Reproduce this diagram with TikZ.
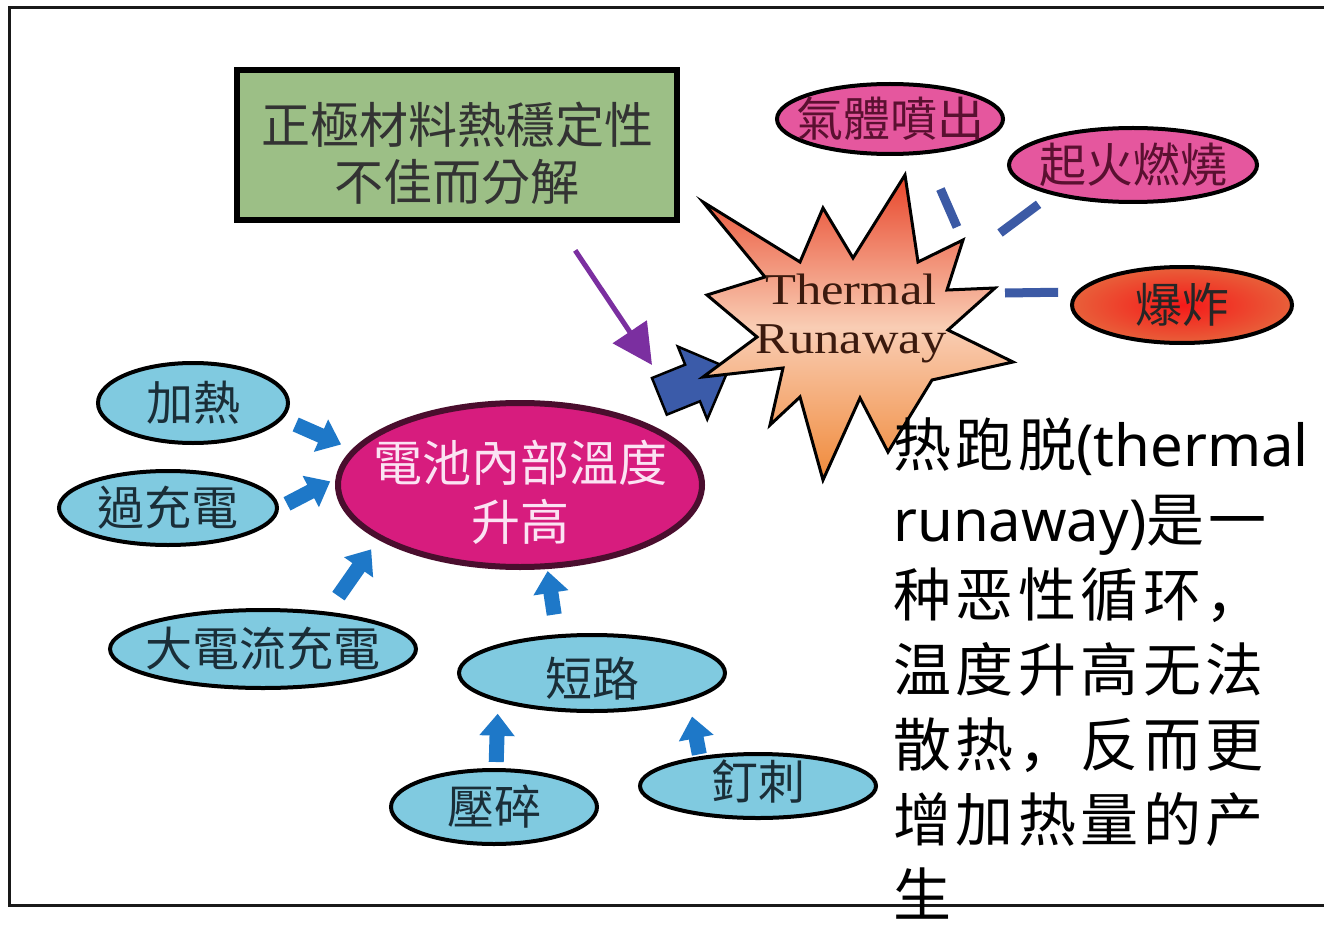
\documentclass[tikz,border=0pt]{standalone}
\usepackage{fontspec}
\setmainfont{Liberation Serif}
\newfontfamily\serifwide[FakeStretch=1.15]{Liberation Serif}
\newfontfamily\cjktc{Noto Sans CJK TC}
\newfontfamily\cjksc[LetterSpace=7.8]{Noto Sans CJK SC}
\newfontfamily\latsans{Noto Sans}
\usetikzlibrary{shapes.geometric,shapes.arrows,arrows.meta}
\definecolor{boxgreen}{HTML}{9CBF86}
\definecolor{cyanfill}{HTML}{80CAE0}
\definecolor{pinkfill}{HTML}{E5579E}
\definecolor{corefill}{HTML}{D71C7E}
\definecolor{coreedge}{HTML}{4A0E2E}
\definecolor{arrowblue}{HTML}{1E78C8}
\definecolor{dashblue}{HTML}{3C5AA5}
\definecolor{feedblue}{HTML}{3B5BA9}
\definecolor{purp}{HTML}{7B2FA0}
\definecolor{bluetext}{HTML}{1A2E38}
\definecolor{pinktext}{HTML}{5A1030}
\definecolor{startext}{HTML}{3B1A0E}
\definecolor{coretext}{HTML}{FBE3F3}
\definecolor{startop}{HTML}{E8452A}
\definecolor{starmid}{HTML}{F9CDB4}
\definecolor{starbot}{HTML}{F08A3A}
\begin{document}
\begin{tikzpicture}[x=1pt,y=-1pt,
  framestyle/.style={line width=3pt, draw=black!90},
  blueell/.style={ellipse, draw=black, line width=4pt, fill=cyanfill, inner sep=0pt},
  pinkell/.style={ellipse, draw=black, line width=4pt, fill=pinkfill, inner sep=0pt},
  lblblue/.style={font=\cjktc\fontsize{47}{52}\selectfont, text=bluetext},
  lblpink/.style={font=\cjktc\fontsize{47}{52}\selectfont, text=pinktext},
  causetxt/.style={font=\cjktc\fontsize{49}{57}\selectfont, text=black!80, align=center},
  coretxt/.style={font=\cjktc\fontsize{49}{59}\selectfont, text=coretext, align=center},
  startxt/.style={font=\serifwide\fontsize{44}{49}\selectfont, text=startext, inner sep=0pt, align=center},
  rtxt/.style={font=\cjksc\fontsize{58}{75}\selectfont, text=black, inner sep=0pt},
  blockarrow/.style={line width=15pt, draw=arrowblue, -{Triangle[width=34pt,length=22pt]}},
  dashlink/.style={line width=9pt, draw=dashblue},
  purparrow/.style={line width=5pt, draw=purp, -{Triangle[width=40pt,length=40pt]}}
]
\useasboundingbox (0,0) rectangle (1324,933);
\fill[white] (0,0) rectangle (1324,933);

% frame
\draw[framestyle] (1324,8) -- (9,8) -- (9,905) -- (1324,905);

% cause box
\node[rectangle, draw=black, line width=6pt, fill=boxgreen, minimum width=440pt, minimum height=150pt,
  label={[causetxt, yshift=-8pt]center:正極材料熱穩定性\\不佳而分解}] (cause) at (457,145) {};

% core ellipse
\node[ellipse, draw=coreedge, line width=6pt, fill=corefill, inner sep=0pt, minimum width=364pt, minimum height=164pt,
  label={[coretxt, yshift=-7pt]center:電池內部溫度\\升高}] (core) at (520,485) {};

% cause ellipses
\node[blueell, minimum width=190pt, minimum height=80pt, label={[lblblue]center:加熱}] (heat) at (193,403) {};
\node[blueell, minimum width=218pt, minimum height=74pt, label={[lblblue]center:過充電}] (over) at (168,508) {};
\node[blueell, minimum width=306pt, minimum height=78pt, label={[lblblue]center:大電流充電}] (big) at (263,649) {};
\node[blueell, minimum width=266pt, minimum height=76pt, label={[lblblue, yshift=-6pt]center:短路}] (short) at (592,673) {};
\node[blueell, minimum width=206pt, minimum height=74pt, label={[lblblue]center:壓碎}] (crush) at (494,807) {};
\node[blueell, minimum width=236pt, minimum height=64pt, label={[lblblue, yshift=4pt]center:釘刺}] (nail) at (758,786) {};

% consequence ellipses
\node[pinkell, minimum width=226pt, minimum height=70pt, label={[lblpink]center:氣體噴出}] (gas) at (890,119) {};
\node[pinkell, minimum width=248pt, minimum height=74pt, label={[lblpink]center:起火燃燒}] (fire) at (1133,165) {};
\node[ellipse, draw=black, line width=4pt, inner sep=0pt, shade, inner color={rgb,255:red,245;green,25;blue,25}, outer color={rgb,255:red,232;green,96;blue,58},
  minimum width=220pt, minimum height=76pt, label={[lblpink, text=black!85]center:爆炸}] (boom) at (1182,305) {};

% block arrows into core and short circuit
\draw[blockarrow, shorten <=14pt, shorten >=12pt] (heat.-10) -- (core.168);
\draw[blockarrow, shorten <=9pt, shorten >=6pt] (over.east) -- (core.178);
\draw[blockarrow, shorten <=19pt, shorten >=12pt] (big.30) -- (core.201);
\draw[blockarrow, shorten <=20pt, shorten >=2pt] (short.132) -- (core.-72);
\draw[blockarrow, shorten <=6pt, shorten >=12pt] (crush.87) -- (short.197);
\draw[blockarrow, shorten <=2pt, shorten >=16pt] (nail.153) -- (short.-16);

% feed arrow from core to thermal runaway
\node[single arrow, draw=black, line width=2.5pt, fill=feedblue, inner xsep=0pt, inner ysep=18.5pt,
  minimum height=75pt, single arrow head extend=19.5pt, rotate=22] (feed) at (685,386) {};

% purple arrow
\coordinate (ptip) at (652,365);
\draw[purparrow, shorten <=33pt] (cause.-38.7) -- (ptip);

% star
\coordinate (star) at (850,330);
\shadedraw[draw=black, line width=3pt, line join=miter, top color=startop,
  bottom color=starbot, middle color=starmid]
  (703,202) -- (800,262) -- (823,208) -- (853,258) -- (905,175) -- (918,262) -- (963,240)
  -- (947,290) -- (995,288) -- (948,330) -- (1013,362) -- (932,380) -- (888,452) -- (860,398)
  -- (823,480) -- (800,397) -- (770,425) -- (783,368) -- (703,377) -- (757,337) -- (707,295)
  -- (765,277) -- cycle;
\node[startxt] (tr) at (851,318) {Thermal\\Runaway};

% dashed links to consequences
\coordinate (g1e) at (957,227);
\coordinate (f1s) at (1000,233);
\coordinate (b1s) at (1005,293);
\draw[dashlink, shorten <=38pt] (gas.315) -- (g1e);
\draw[dashlink, shorten >=16pt] (f1s) -- (fire.200);
\draw[dashlink, shorten >=18pt] (b1s) -- (boom.173.6);

% explanatory text
\node[rtxt, anchor=base west] (t1) at (893,466) {热跑脱{\latsans (thermal}};
\node[rtxt, anchor=base west] (t2) at (893,541) {{\latsans runaway)}是一};
\node[rtxt, anchor=base west] (t3) at (893,616) {种恶性循环，};
\node[rtxt, anchor=base west] (t4) at (893,691) {温度升高无法};
\node[rtxt, anchor=base west] (t5) at (893,766) {散热，反而更};
\node[rtxt, anchor=base west] (t6) at (893,841) {增加热量的产};
\node[rtxt, anchor=base west] (t7) at (893,916) {生};
\end{tikzpicture}
\end{document}
